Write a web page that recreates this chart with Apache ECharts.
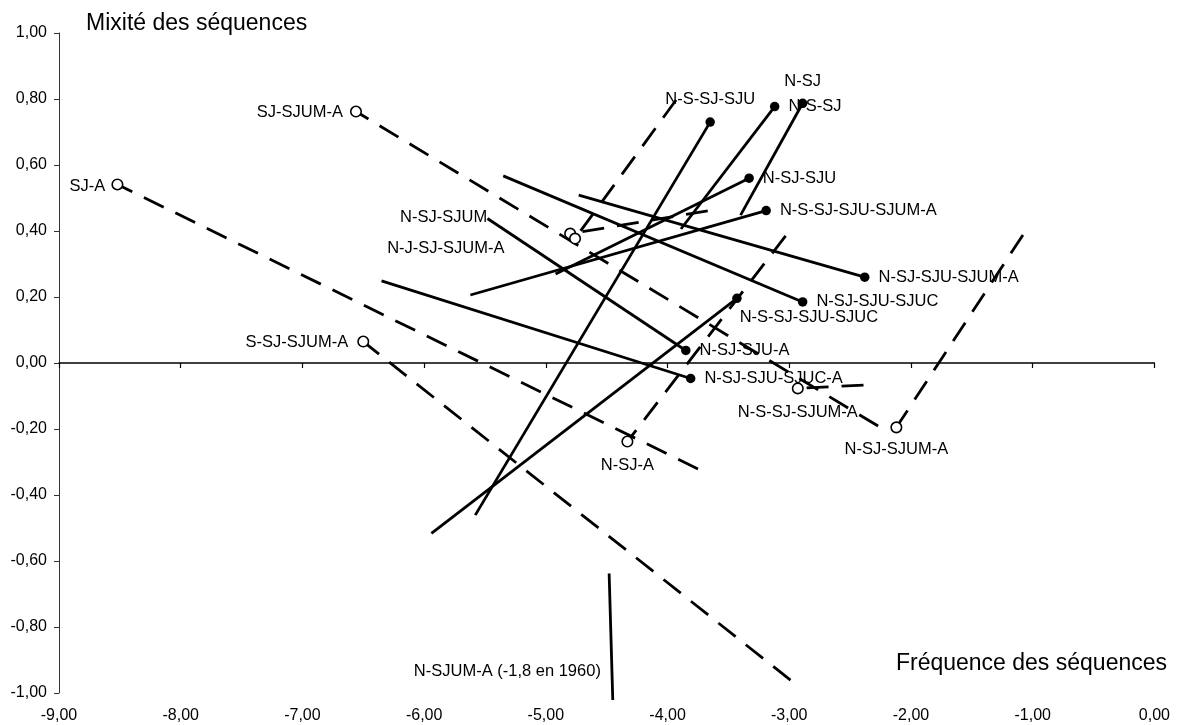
<!DOCTYPE html>
<html>
<head>
<meta charset="utf-8">
<script src="https://cdn.jsdelivr.net/npm/echarts@6/dist/echarts.min.js"></script>
<style>
html,body{margin:0;padding:0;background:#fff;}
#chart{width:1179px;height:725px;}
</style>
</head>
<body>
<div id="chart"></div>
<script>
// ---- Data ----
const xTicks = [-9, -8, -7, -6, -5, -4, -3, -2, -1, 0];
const yTicks = [-1, -0.8, -0.6, -0.4, -0.2, 0, 0.2, 0.4, 0.6, 0.8, 1];

// Solid trajectories (filled dot at the labelled end)
const solidNames = ['N-S-SJ-SJU', 'N-S-SJ', 'N-SJ', 'N-SJ-SJU', 'N-S-SJ-SJU-SJUM-A', 'N-SJ-SJU-SJUM-A', 'N-SJ-SJU-SJUC', 'N-S-SJ-SJU-SJUC', 'N-SJ-SJU-A', 'N-SJ-SJU-SJUC-A'];
const solidFromX = [-5.58, -3.89, -3.40, -4.92, -5.62, -4.73, -5.35, -5.94, -5.48, -6.35];
const solidFromY = [-0.461, 0.406, 0.448, 0.270, 0.206, 0.509, 0.567, -0.516, 0.438, 0.249];
const solidToX = [-3.65, -3.12, -2.89, -3.33, -3.19, -2.38, -2.89, -3.43, -3.85, -3.81];
const solidToY = [0.730, 0.777, 0.787, 0.560, 0.462, 0.260, 0.185, 0.196, 0.038, -0.047];

// Dashed trajectories (open circle at the labelled end)
const dashedNames = ['SJ-A', 'SJ-SJUM-A', 'S-SJ-SJUM-A', 'N-SJ-SJUM', 'N-J-SJ-SJUM-A', 'N-SJ-A', 'N-S-SJ-SJUM-A', 'N-SJ-SJUM-A'];
const dashedFromX = [-3.75, -2.27, -2.99, -3.67, -3.93, -3.03, -2.39, -1.08];
const dashedFromY = [-0.321, -0.191, -0.961, 0.461, 0.797, 0.385, -0.067, 0.388];
const dashedToX = [-8.52, -6.56, -6.50, -4.80, -4.76, -4.33, -2.93, -2.12];
const dashedToY = [0.541, 0.762, 0.065, 0.392, 0.377, -0.238, -0.077, -0.195];

// N-SJUM-A (its 1960 value, -1,8, is off the chart)
const nsjumaName = 'N-SJUM-A (-1,8 en 1960)';
const nsjumaX = [-4.48, -4.45];
const nsjumaY = [-0.638, -1.021];

// ---- Label placement (style only) ----
const labelPlace = {
  'N-S-SJ-SJU': {position: 'top', distance: 9},
  'N-S-SJ': {position: 'right', distance: 9},
  'N-SJ': {position: 'top', distance: 9},
  'N-SJ-SJU': {position: 'right', distance: 9},
  'N-S-SJ-SJU-SJUM-A': {position: 'right', distance: 9},
  'N-SJ-SJU-SJUM-A': {position: 'right', distance: 9},
  'N-SJ-SJU-SJUC': {position: 'right', distance: 9},
  'N-S-SJ-SJU-SJUC': {position: 'right', distance: 0, offset: [-2, 19]},
  'N-SJ-SJU-A': {position: 'right', distance: 9},
  'N-SJ-SJU-SJUC-A': {position: 'right', distance: 9},
  'SJ-A': {position: 'left', distance: 6, offset: [0, 2]},
  'SJ-SJUM-A': {position: 'left', distance: 7, offset: [0, 1]},
  'S-SJ-SJUM-A': {position: 'left', distance: 9, offset: [0, 1]},
  'N-SJ-SJUM': {position: 'left', distance: 0, offset: [-77, -16.5]},
  'N-J-SJ-SJUM-A': {position: 'left', distance: 0, offset: [-64.5, 10]},
  'N-SJ-A': {position: 'bottom', distance: 9},
  'N-S-SJ-SJUM-A': {position: 'bottom', distance: 9},
  'N-SJ-SJUM-A': {position: 'bottom', distance: 8}
};

const FONT = '"Liberation Sans", Arial, Helvetica, sans-serif';
const fmt = v => (Math.abs(v) < 1e-9 ? 0 : v).toFixed(2).replace('.', ',');

const series = [];
const lineW = 2.8;

dashedNames.forEach((n, i) => {
  series.push({
    type: 'line', name: n, xAxisIndex: 0, yAxisIndex: 0,
    data: [[dashedFromX[i], dashedFromY[i]], [dashedToX[i], dashedToY[i]]],
    symbol: 'none', silent: true, z: 2,
    lineStyle: {color: '#000', width: lineW, type: [22, 13], cap: 'butt'}
  });
});
solidNames.forEach((n, i) => {
  series.push({
    type: 'line', name: n, xAxisIndex: 0, yAxisIndex: 0,
    data: [[solidFromX[i], solidFromY[i]], [solidToX[i], solidToY[i]]],
    symbol: 'none', silent: true, z: 2,
    lineStyle: {color: '#000', width: lineW, type: 'solid', cap: 'butt'}
  });
});
series.push({
  type: 'line', name: 'N-SJUM-A', xAxisIndex: 0, yAxisIndex: 0,
  data: nsjumaX.map((x, i) => [x, nsjumaY[i]]),
  symbol: 'none', silent: true, z: 2, clip: false,
  lineStyle: {color: '#000', width: lineW, type: 'solid', cap: 'butt'}
});

const labelBase = {show: true, color: '#000', opacity: 1, fontFamily: FONT, fontSize: 16.5, formatter: '{b}'};

series.push({
  type: 'scatter', name: 'open', z: 4, silent: true,
  symbol: 'circle', symbolSize: 10.5,
  itemStyle: {color: '#fff', borderColor: '#000', borderWidth: 1.6, opacity: 1},
  data: dashedNames.map((n, i) => ({name: n, value: [dashedToX[i], dashedToY[i]], label: Object.assign({}, labelBase, labelPlace[n])})),
  label: labelBase
});
series.push({
  type: 'scatter', name: 'filled', z: 4, silent: true,
  symbol: 'circle', symbolSize: 9.5,
  itemStyle: {color: '#000', opacity: 1},
  data: solidNames.map((n, i) => ({name: n, value: [solidToX[i], solidToY[i]], label: Object.assign({}, labelBase, labelPlace[n])})),
  label: labelBase
});
series.push({
  type: 'scatter', name: 'nsjumaLabel', z: 4, silent: true,
  symbol: 'circle', symbolSize: 0.5,
  itemStyle: {color: '#000', opacity: 1},
  data: [{name: nsjumaName, value: [nsjumaX[0], nsjumaY[0]]}],
  label: Object.assign({}, labelBase, {position: 'left', distance: 0, offset: [-8, 97.5]})
});

const chart = echarts.init(document.getElementById('chart'), null, {renderer: 'canvas'});
chart.setOption({
  animation: false,
  backgroundColor: '#fff',
  grid: {left: 59, right: 24.6, top: 33, bottom: 32, containLabel: false, outerBoundsMode: 'none'},
  xAxis: [
    {
      type: 'value', min: xTicks[0], max: xTicks[xTicks.length - 1], interval: 1,
      position: 'bottom',
      axisLine: {show: true, onZero: true, lineStyle: {color: '#000', width: 1.5}},
      axisTick: {show: true, inside: false, length: 5, lineStyle: {color: '#000', width: 1.2}},
      axisLabel: {show: false},
      splitLine: {show: false}
    },
    {
      type: 'value', min: xTicks[0], max: xTicks[xTicks.length - 1], interval: 1,
      position: 'bottom',
      axisLine: {show: false, onZero: false},
      axisTick: {show: false},
      axisLabel: {show: true, margin: 15, color: '#000', fontFamily: FONT, fontSize: 16, showMinLabel: true, showMaxLabel: true, hideOverlap: false, formatter: fmt},
      splitLine: {show: false}
    }
  ],
  yAxis: {
    type: 'value', min: yTicks[0], max: yTicks[yTicks.length - 1], interval: 0.2,
    position: 'left',
    axisLine: {show: true, onZero: false, lineStyle: {color: '#333', width: 1}},
    axisTick: {show: true, inside: false, length: 5, lineStyle: {color: '#333', width: 1}},
    axisLabel: {show: true, margin: 12, color: '#000', fontFamily: FONT, fontSize: 16, showMinLabel: true, showMaxLabel: true, hideOverlap: false, formatter: fmt},
    splitLine: {show: false}
  },
  graphic: [
    {type: 'text', x: 86, y: 24, z: 10, silent: true,
     style: {text: 'Mixité des séquences', fill: '#000', font: '23px ' + FONT, textAlign: 'left', textVerticalAlign: 'middle', align: 'left', verticalAlign: 'middle'}},
    {type: 'text', x: 1167, y: 664, z: 10, silent: true,
     style: {text: 'Fréquence des séquences', fill: '#000', font: '23px ' + FONT, textAlign: 'right', textVerticalAlign: 'middle', align: 'right', verticalAlign: 'middle'}}
  ],
  series: series
});
</script>
</body>
</html>
